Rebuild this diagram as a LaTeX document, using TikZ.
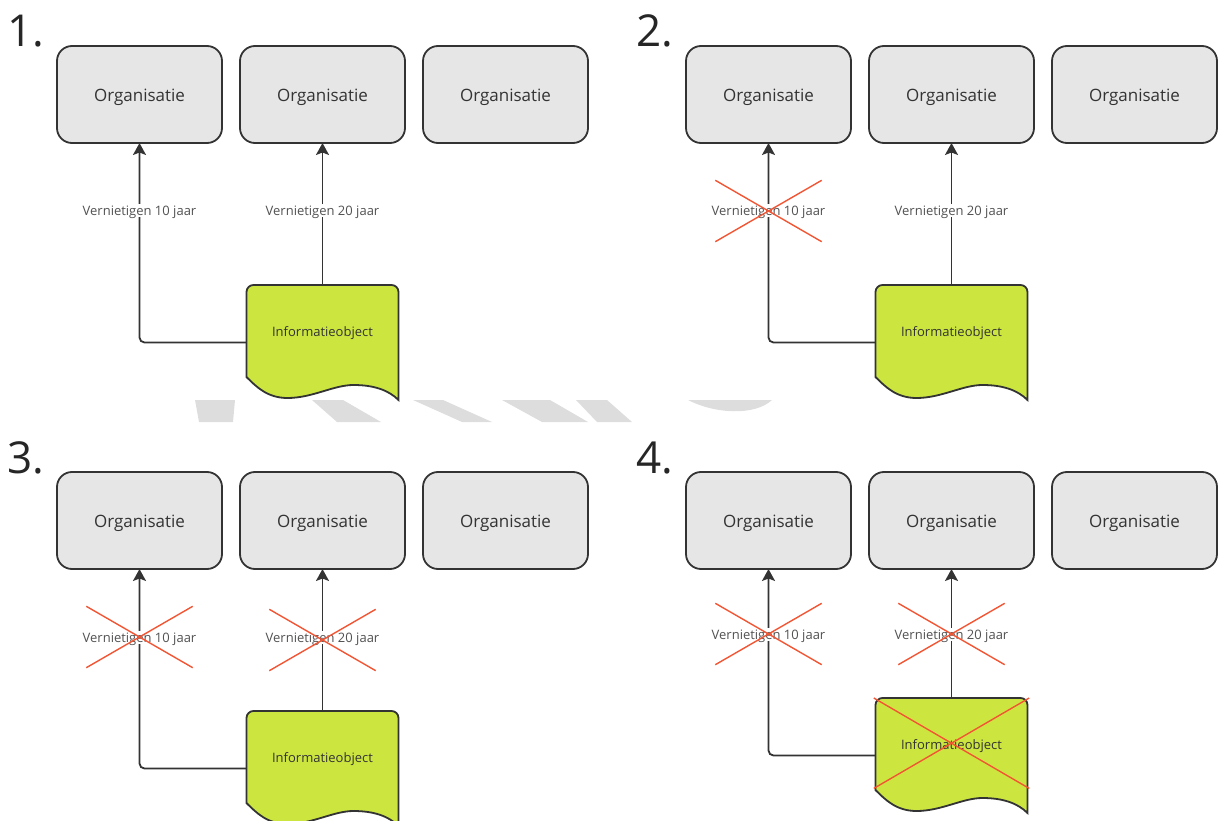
\documentclass[tikz,border=0pt]{standalone}
\usepackage{fontspec}
\setmainfont{Open Sans}
\usetikzlibrary{arrows.meta,shapes.misc}
\definecolor{orgfill}{HTML}{E6E6E6}
\definecolor{lineclr}{HTML}{333333}
\definecolor{docfill}{HTML}{CDE63F}
\definecolor{crossred}{HTML}{F25533}
\definecolor{wmark}{HTML}{DDDDDD}

\begin{document}
\begin{tikzpicture}[x=1pt,y=-1pt,
    org/.style={draw=lineclr,line width=1.8pt,fill=orgfill,rounded corners=15pt,
        minimum width=165pt,minimum height=97pt,inner sep=0pt,outer sep=0pt,
        text height=14pt,text depth=0pt,
        font=\fontsize{17}{20}\selectfont,text=lineclr},
    docnode/.style={minimum width=152pt,minimum height=115pt,inner sep=0pt,outer sep=0pt},
    docline/.style={draw=lineclr,line width=1.8pt,fill=docfill},
    doctxt/.style={inner sep=0pt,font=\fontsize{13}{15}\selectfont,text=lineclr},
    arr/.style={draw=lineclr,line width=1.8pt,rounded corners=5pt,
        -{Stealth[length=12pt,width=13pt,inset=2.5pt]}},
    lbl/.style={fill=white,inner sep=1.5pt,text height=10pt,text depth=0pt,
        font=\fontsize{13}{15}\selectfont,text=lineclr!85},
    xout/.style={draw=crossred,line width=1.4pt,cross out,inner sep=0pt,
        minimum width=105pt,minimum height=60pt},
    num/.style={anchor=base west,inner sep=0pt,font=\fontsize{44}{48}\selectfont,text=black!85}]

    \useasboundingbox (0,0) rectangle (1219,821);

    % watermark strip between the panels
    \fill[wmark] (195,400) -- (235,400) -- (233,422) -- (199,422) -- cycle;
    \fill[wmark] (312,400) -- (343,400) -- (381,422) -- (337,422) -- cycle;
    \fill[wmark] (413,400) -- (443,400) -- (492,422) -- (462,422) -- cycle;
    \fill[wmark] (502,400) -- (550,400) -- (588,422) -- (542,422) -- cycle;
    \fill[wmark] (576,400) -- (607,400) -- (632,422) -- (597,422) -- cycle;
    \fill[wmark] (688,400) -- (772,400) .. controls (755,416) and (715,414) .. (688,400);

    % 1.
    \node[num] (n1) at (7,47) {1.};
    \node[org] (o11) at (139.5,94.5) {Organisatie};
    \node[org] (o12) at (322.5,94.5) {Organisatie};
    \node[org] (o13) at (505.5,94.5) {Organisatie};
    \node[docnode] (d1) at (322.5,342.5) {};
    \draw[docline] (d1.north east) -- (d1.south east)
        .. controls +(-10,-10) and +(20,0) .. ++(-45,-15)
        .. controls +(-20,0) and +(25,0) .. ++(-66,13)
        .. controls +(-20,0) and +(10,10) .. ++(-41,-21)
        [rounded corners=7pt] -- (d1.north west) -- cycle;
    \node[doctxt] at ([yshift=9pt]d1.center) {Informatieobject};
    \draw[arr] (d1.west) -| (o11.south);
    \draw[arr] (d1.north) -- (o12.south);
    \node[lbl] (l11) at (139.5,211) {Vernietigen 10 jaar};
    \node[lbl] (l12) at (322.5,211) {Vernietigen 20 jaar};

    % 2.
    \begin{scope}[shift={(629,0)}]
        \node[num] (n2) at (7,47) {2.};
        \node[org] (o21) at (139.5,94.5) {Organisatie};
        \node[org] (o22) at (322.5,94.5) {Organisatie};
        \node[org] (o23) at (505.5,94.5) {Organisatie};
        \node[docnode] (d2) at (322.5,342.5) {};
        \draw[docline] (d2.north east) -- (d2.south east)
            .. controls +(-10,-10) and +(20,0) .. ++(-45,-15)
            .. controls +(-20,0) and +(25,0) .. ++(-66,13)
            .. controls +(-20,0) and +(10,10) .. ++(-41,-21)
            [rounded corners=7pt] -- (d2.north west) -- cycle;
        \node[doctxt] at ([yshift=9pt]d2.center) {Informatieobject};
        \draw[arr] (d2.west) -| (o21.south);
        \draw[arr] (d2.north) -- (o22.south);
        \node[lbl] (l21) at (139.5,211) {Vernietigen 10 jaar};
        \node[lbl] (l22) at (322.5,211) {Vernietigen 20 jaar};
        \node[xout] at (l21) {};
    \end{scope}

    % 3.
    \begin{scope}[shift={(0,426)}]
        \node[num] (n3) at (7,47) {3.};
        \node[org] (o31) at (139.5,94.5) {Organisatie};
        \node[org] (o32) at (322.5,94.5) {Organisatie};
        \node[org] (o33) at (505.5,94.5) {Organisatie};
        \node[docnode] (d3) at (322.5,342.5) {};
        \draw[docline] (d3.north east) -- (d3.south east)
            .. controls +(-10,-10) and +(20,0) .. ++(-45,-15)
            .. controls +(-20,0) and +(25,0) .. ++(-66,13)
            .. controls +(-20,0) and +(10,10) .. ++(-41,-21)
            [rounded corners=7pt] -- (d3.north west) -- cycle;
        \node[doctxt] at ([yshift=9pt]d3.center) {Informatieobject};
        \draw[arr] (d3.west) -| (o31.south);
        \draw[arr] (d3.north) -- (o32.south);
        \node[lbl] (l31) at (139.5,211) {Vernietigen 10 jaar};
        \node[lbl] (l32) at (322.5,211) {Vernietigen 20 jaar};
        \node[xout] at (l31) {};
        \node[xout] at ([yshift=-3pt]l32.center) {};
    \end{scope}

    % 4.
    \begin{scope}[shift={(629,426)}]
        \node[num] (n4) at (7,47) {4.};
        \node[org] (o41) at (139.5,94.5) {Organisatie};
        \node[org] (o42) at (322.5,94.5) {Organisatie};
        \node[org] (o43) at (505.5,94.5) {Organisatie};
        \node[docnode] (d4) at (322.5,329.5) {};
        \draw[docline] (d4.north east) -- (d4.south east)
            .. controls +(-10,-10) and +(20,0) .. ++(-45,-15)
            .. controls +(-20,0) and +(25,0) .. ++(-66,13)
            .. controls +(-20,0) and +(10,10) .. ++(-41,-21)
            [rounded corners=7pt] -- (d4.north west) -- cycle;
        \node[doctxt] at ([yshift=9pt]d4.center) {Informatieobject};
        \draw[arr] (d4.west) -| (o41.south);
        \draw[arr] (d4.north) -- (o42.south);
        \node[lbl] (l41) at (139.5,208) {Vernietigen 10 jaar};
        \node[lbl] (l42) at (322.5,208) {Vernietigen 20 jaar};
        \node[xout] at (l41) {};
        \node[xout] at (l42) {};
        \node[xout,minimum width=154pt,minimum height=89pt,anchor=north] at (d4.north) {};
    \end{scope}
\end{tikzpicture}
\end{document}
